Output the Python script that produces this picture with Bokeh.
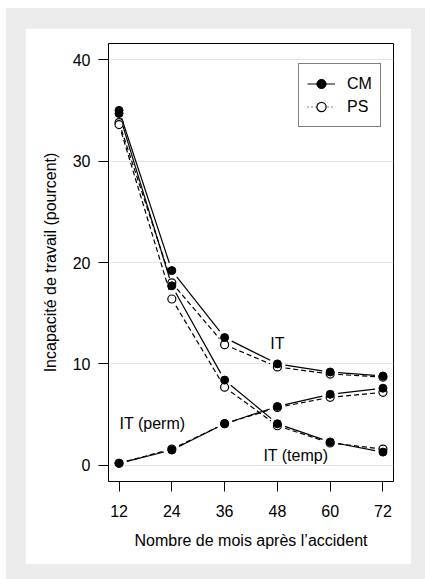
import numpy as np
from bokeh.plotting import figure
from bokeh.layouts import column, row, Spacer
from bokeh.models import ColumnDataSource, Legend, LegendItem, Range1d, FixedTicker
from bokeh.core.properties import value
from bokeh.embed import file_html
from bokeh.resources import INLINE

# ---- data ----
months = [12, 24, 36, 48, 60, 72]
it_cm = [35.0, 19.2, 12.6, 10.0, 9.2, 8.8]
it_ps = [33.8, 18.0, 11.9, 9.7, 9.0, 8.7]
temp_cm = [34.7, 17.7, 8.4, 4.1, 2.3, 1.3]
temp_ps = [33.6, 16.4, 7.7, 3.9, 2.2, 1.6]
perm_cm = [0.2, 1.5, 4.1, 5.8, 7.0, 7.6]
perm_ps = [0.2, 1.6, 4.1, 5.7, 6.7, 7.2]
y_ticks = [0, 10, 20, 30, 40]
x_ticks = [12, 24, 36, 48, 60, 72]
labels = ["IT", "IT (perm)", "IT (temp)"]
label_x = [48.0, 19.6, 52.2]
label_y = [12.0, 4.1, 1.0]

FONT = "Liberation Sans"
FS = "16px"

X0, X1 = 9.6, 74.4
Y0, Y1 = -1.6, 41.6
W, H = 386, 536
ML, MR, MT, MB = 83, 18, 15, 83
FW, FH = W - ML - MR, H - MT - MB  # frame size in px

p = figure(width=W, height=H, output_backend="svg", toolbar_location=None,
           x_range=Range1d(X0, X1), y_range=Range1d(Y0, Y1),
           min_border_left=ML, min_border_right=MR, min_border_top=MT, min_border_bottom=MB,
           background_fill_color="white", border_fill_color="white")

p.outline_line_color = "black"
p.outline_line_width = 1
p.outline_line_alpha = 1
p.xgrid.grid_line_color = None
p.ygrid.grid_line_color = "#e3e3e3"
p.ygrid.grid_line_width = 1

for ax in (p.xaxis[0], p.yaxis[0]):
    ax.axis_line_color = None
    ax.major_tick_in = 0
    ax.major_tick_out = 10
    ax.major_tick_line_color = "black"
    ax.minor_tick_line_color = None
    ax.major_label_text_font = FONT
    ax.major_label_text_font_size = FS
    ax.major_label_text_color = "black"
    ax.axis_label_text_font = FONT
    ax.axis_label_text_font_size = FS
    ax.axis_label_text_font_style = "normal"
    ax.axis_label_text_color = "black"

p.xaxis.ticker = FixedTicker(ticks=x_ticks)
p.yaxis.ticker = FixedTicker(ticks=y_ticks)
p.xaxis.axis_label = "Nombre de mois après l’accident"
p.yaxis.axis_label = "Incapacité de travail (pourcent)"
p.xaxis.major_label_standoff = 13
p.yaxis.major_label_standoff = 8
p.xaxis.axis_label_standoff = 12
p.yaxis.axis_label_standoff = 11

sx = FW / (X1 - X0)
sy = FH / (Y1 - Y0)
GAP = 8.0


def gapped(xs, ys):
    x = np.array(xs, float)
    y = np.array(ys, float)
    xa, ya, xb, yb = [], [], [], []
    for i in range(len(x) - 1):
        dx = (x[i + 1] - x[i]) * sx
        dy = (y[i + 1] - y[i]) * sy
        d = np.hypot(dx, dy)
        if d <= 2 * GAP:
            continue
        ux, uy = dx / d, dy / d
        xa.append(x[i] + GAP * ux / sx)
        ya.append(y[i] + GAP * uy / sy)
        xb.append(x[i + 1] - GAP * ux / sx)
        yb.append(y[i + 1] - GAP * uy / sy)
    return dict(x0=xa, y0=ya, x1=xb, y1=yb)


ps_series = [it_ps, temp_ps, perm_ps]
cm_series = [it_cm, temp_cm, perm_cm]

for ys in ps_series:
    p.segment(x0="x0", y0="y0", x1="x1", y1="y1", source=ColumnDataSource(gapped(months, ys)),
              line_color="black", line_width=1.2, line_dash="5 3")
for ys in cm_series:
    p.segment(x0="x0", y0="y0", x1="x1", y1="y1", source=ColumnDataSource(gapped(months, ys)),
              line_color="black", line_width=1.2)
for ys in ps_series:
    p.scatter(months, ys, marker="circle", size=8, fill_color="white", line_color="black", line_width=1.2)
for ys in cm_series:
    p.scatter(months, ys, marker="circle", size=8, fill_color="black", line_color="black", line_width=1)

p.text(x=label_x, y=label_y, text=labels, text_font=value(FONT), text_font_size=FS,
       text_align="center", text_baseline="middle", text_color="black")

# legend-only glyphs (NaN data: never visible in the plot)
nan = [float("nan")]
l_cm = p.line(nan, nan, line_color="black", line_width=1)
m_cm = p.scatter(nan, nan, marker="circle", size=8, fill_color="black", line_color="black")
l_ps = p.line(nan, nan, line_color="black", line_width=1, line_dash="1 3")
m_ps = p.scatter(nan, nan, marker="circle", size=8, fill_color="white", line_color="black", line_width=1.2)

legend = Legend(items=[LegendItem(label="CM", renderers=[l_cm, m_cm]),
                       LegendItem(label="PS", renderers=[l_ps, m_ps])],
                location=(190, 354), border_line_color="black", border_line_width=1,
                background_fill_color="white", background_fill_alpha=1,
                padding=8, spacing=0, margin=0,
                glyph_width=28, glyph_height=23, label_height=23, label_standoff=12,
                label_text_font=FONT, label_text_font_size=FS, label_text_color="black")
p.add_layout(legend, "center")

grey_block = column(
    Spacer(width=419, height=20),
    row(Spacer(width=19, height=536), p, Spacer(width=14, height=536)),
    Spacer(width=419, height=15),
    styles={"background-color": "#ebebeb"},
)
page = column(
    Spacer(width=425, height=8),
    row(Spacer(width=6, height=571), grey_block),
)

open("out.html", "w").write(file_html(page, INLINE))
